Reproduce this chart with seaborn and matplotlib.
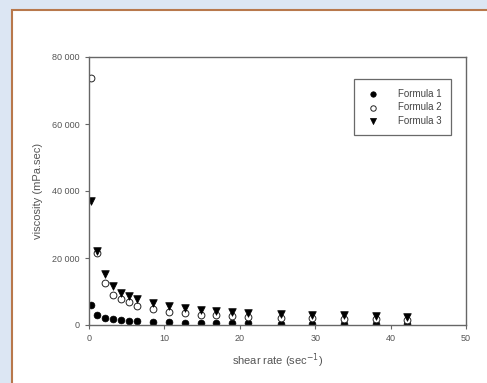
import pandas as pd
import matplotlib.pyplot as plt
import matplotlib.patches as mpatches
import seaborn as sns

# shear rate (sec^-1) and viscosity (mPa.sec)
shear_rate = [0.2, 1.1, 2.1, 3.2, 4.2, 5.3, 6.3, 8.5, 10.6, 12.7,
              14.8, 16.9, 19.0, 21.1, 25.4, 29.6, 33.8, 38.0, 42.2]
formula_1 = [5900, 2900, 2000, 1700, 1400, 1200, 1100, 800, 800, 600,
             600, 550, 500, 500, 400, 400, 350, 300, 250]
formula_2 = [73800, 21400, 12400, 9000, 7700, 7000, 5700, 4700, 4000, 3500,
             3100, 3000, 2700, 2500, 2000, 2000, 1800, 1700, 1500]
formula_3 = [37000, 22200, 15100, 11600, 9600, 8700, 7700, 6500, 5700, 5000,
             4500, 4200, 3900, 3700, 3400, 3000, 2900, 2700, 2400]

df = pd.DataFrame({"shear": shear_rate, "f1": formula_1,
                   "f2": formula_2, "f3": formula_3})

sns.set_style("white")
plt.rcParams["font.family"] = ["Liberation Sans", "DejaVu Sans"]

fig = plt.figure(figsize=(4.87, 3.83), dpi=100)
fig.patch.set_facecolor("#dce6f3")
# white panel with brown frame, kept behind the axes
fig.patches.append(mpatches.Rectangle((12 / 487, -0.05), 1.0, 1 - 10 / 383 + 0.05,
                                      transform=fig.transFigure, facecolor="white",
                                      edgecolor="#b8784c", linewidth=1.5, zorder=-10))

ax = fig.add_axes([89 / 487, 1 - 325 / 383, 377 / 487, 268 / 383])
ax.set_zorder(5)
ax.set_facecolor("white")

sns.scatterplot(data=df, x="shear", y="f1", ax=ax, marker="o", s=24,
                color="black", edgecolor="black", linewidth=0.5, label="Formula 1")
sns.scatterplot(data=df, x="shear", y="f2", ax=ax, marker="o", s=24,
                color="white", edgecolor="#222222", linewidth=0.7, label="Formula 2")
sns.scatterplot(data=df, x="shear", y="f3", ax=ax, marker="v", s=30,
                color="black", edgecolor="black", linewidth=0.5, label="Formula 3")

ax.set_xlim(0, 50)
ax.set_ylim(0, 80000)
ax.set_xticks([0, 10, 20, 30, 40, 50])
ax.set_yticks([0, 20000, 40000, 60000, 80000])
ax.set_yticklabels(["0", "20 000", "40 000", "60 000", "80 000"])

for sp in ax.spines.values():
    sp.set_color("#666666")
    sp.set_linewidth(1.0)
    sp.set_visible(True)
ax.tick_params(direction="out", length=3, width=0.8, colors="#666666",
               labelsize=6.5, labelcolor="#555555", left=True, bottom=True)

ax.set_xlabel("shear rate (sec$^{-1}$)", fontsize=8, color="#555555", labelpad=6)
ax.set_ylabel("viscosity (mPa.sec)", fontsize=8, color="#555555", labelpad=7)

leg = ax.legend(loc="upper right", bbox_to_anchor=(0.96, 0.918), borderaxespad=0,
                fontsize=7, frameon=True, fancybox=False, edgecolor="#444444",
                borderpad=1.0, labelspacing=0.35, handletextpad=1.5, markerscale=0.8)
leg.get_frame().set_linewidth(0.9)
for t in leg.get_texts():
    t.set_color("#444444")

fig.savefig("out.png", dpi=100, facecolor=fig.get_facecolor())
